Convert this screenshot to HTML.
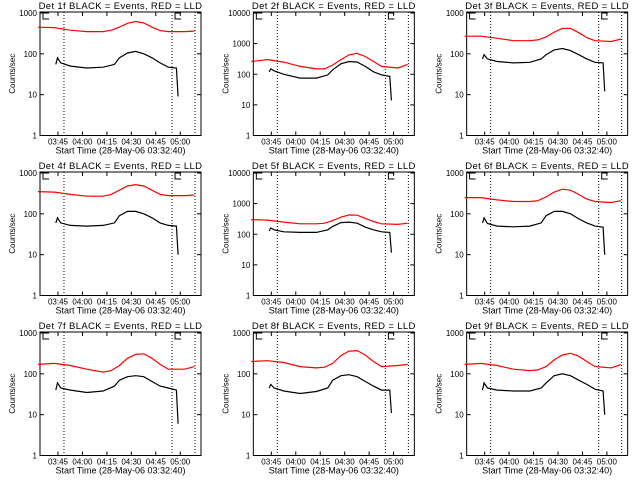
<!DOCTYPE html>
<html><head><meta charset="utf-8"><style>
html,body{margin:0;padding:0;background:#fff;}
svg{display:block;font-family:"Liberation Sans",sans-serif;}
</style></head><body>
<svg id="chart" width="640" height="480" xmlns="http://www.w3.org/2000/svg"></svg>
<script>
const panelTitles = ["Det 1f","Det 2f","Det 3f","Det 4f","Det 5f","Det 6f","Det 7f","Det 8f","Det 9f"];
const decadeCounts = [3,4,3,3,4,3,3,3,3];
const xTickLabels = ["03:45","04:00","04:15","04:30","04:45","05:00"];
const xTickMinutes = [12.33,27.33,42.33,57.33,72.33,87.33];
const dottedMinutes = [16,82.3,96.4];
const redT = [0,10,20,30,40,45,50,55,60,65,70,75,80,90,96];
const blackT = [11,12,14,20,30,40,47,50,55,60,65,70,75,80,85,86];
const red1=[450,440,380,350,350,380,450,560,620,570,450,370,350,350,360];
const red2=[260,300,250,180,150,150,200,300,430,480,380,260,180,160,210];
const red3=[270,270,240,210,210,220,260,340,420,420,330,250,210,200,230];
const red4=[350,340,300,270,270,300,380,480,520,480,380,300,280,280,290];
const red5=[300,290,250,220,220,230,280,360,430,420,330,260,220,210,230];
const red6=[250,250,220,200,200,210,260,340,400,380,300,230,200,190,210];
const red7=[170,180,160,130,110,120,160,240,300,310,240,170,130,130,150];
const red8=[200,210,190,150,140,145,180,280,360,370,290,200,150,160,170];
const red9=[170,180,160,130,120,125,150,220,290,320,270,200,150,140,170];
const blk1=[55,80,60,50,45,47,55,80,105,115,100,80,60,47,45,9];
const blk2=[120,150,130,100,75,75,95,140,220,260,250,180,120,95,85,14];
const blk3=[75,95,75,65,60,62,75,95,125,135,120,95,75,62,60,12];
const blk4=[60,80,60,52,50,52,60,90,115,115,100,80,60,52,50,10];
const blk5=[130,160,140,120,115,115,140,180,240,250,230,170,140,120,115,25];
const blk6=[60,80,58,50,48,50,60,90,115,115,100,75,60,50,47,10];
const blk7=[40,60,45,40,35,38,50,70,85,90,85,65,50,45,40,6];
const blk8=[45,55,45,38,33,37,45,70,90,95,85,65,50,40,40,11];
const blk9=[40,60,45,40,38,38,45,60,90,100,90,70,55,42,38,10];
const redSeries=[red1,red2,red3,red4,red5,red6,red7,red8,red9];
const blackSeries=[blk1,blk2,blk3,blk4,blk5,blk6,blk7,blk8,blk9];

const NS="http://www.w3.org/2000/svg";
const svg=document.getElementById('chart');
function mk(tag,attrs,parent,text){const e=document.createElementNS(NS,tag);for(const k in attrs)e.setAttribute(k,attrs[k]);if(text!==undefined)e.textContent=text;parent.appendChild(e);return e;}

for(let p=0;p<9;p++){
  const col=p%3,row=Math.floor(p/3);
  const ox=col*213.33, oy=row*160;
  const L=ox+40,R=ox+201,T=oy+12,B=oy+135.5;
  const k = 1.63, x0 = 37.9;
  const xs=t=>ox+x0+t*k;
  const nd=decadeCounts[p];
  const ys=v=>B-(Math.log10(v)/nd)*(B-T-1);
  const g=mk('g',{},svg);
  
  
  const title=mk('text',{x:(L+R)/2,y:oy+9,'font-size':9.5,'letter-spacing':0.35,'text-anchor':'middle'},g,panelTitles[p]+" BLACK = Events, RED = LLD");
  
  
  const box=mk('rect',{x:L,y:T,width:R-L,height:B-T,fill:'none',stroke:'#000','stroke-width':1},g);
  
  
  for(let d=0;d<=nd;d++){
    const y=ys(Math.pow(10,d));
    mk('line',{x1:L,x2:L+4,y1:y,y2:y,stroke:'#000'},g);
    mk('line',{x1:R-4,x2:R,y1:y,y2:y,stroke:'#000'},g);
    const tl=mk('text',{x:L-3,y:y+3,'font-size':8,'text-anchor':'end'},g,String(Math.pow(10,d)));
    
    
  }
  for(let i=0;i<xTickLabels.length;i++){
    const x=xs(xTickMinutes[i]);
    mk('line',{x1:x,x2:x,y1:B,y2:B-4,stroke:'#000'},g);
    mk('line',{x1:x,x2:x,y1:T,y2:T+4,stroke:'#000'},g);
    const xl=mk('text',{x:x,y:B+9,'font-size':8,'text-anchor':'middle'},g,xTickLabels[i]);
    
    
  }
  const xt=mk('text',{x:(L+R)/2,y:B+18,'font-size':9,'text-anchor':'middle'},g,"Start Time (28-May-06 03:32:40)");
  
  
  const yt=mk('text',{x:0,y:0,'font-size':8,'text-anchor':'middle',transform:`translate(${ox+15},${(T+B)/2}) rotate(-90)`},g,"Counts/sec");
  
  
  dottedMinutes.forEach(t=>{const x=xs(t);const dl=mk('line',{x1:x,x2:x,y1:T,y2:B,stroke:'#000','stroke-dasharray':'1,2'},g);
    
    });
  [L+3,xs(dottedMinutes[1])+3].forEach(x=>{const e=mk('path',{d:`M${x+6},${T+1}H${x}V${T+7}H${x+6}`,fill:'none',stroke:'#000'},g);
    
    });
  const rp=redT.map((t,i)=>xs(t).toFixed(1)+','+ys(redSeries[p][i]).toFixed(1)).join(' ');
  const rl=mk('polyline',{points:rp,fill:'none',stroke:'#ff0000','stroke-width':1.2},g);
  
  
  const bp=blackT.map((t,i)=>xs(t).toFixed(1)+','+ys(blackSeries[p][i]).toFixed(1)).join(' ');
  const bl=mk('polyline',{points:bp,fill:'none',stroke:'#000','stroke-width':1.2},g);
  
  
}
</script>
</body></html>
